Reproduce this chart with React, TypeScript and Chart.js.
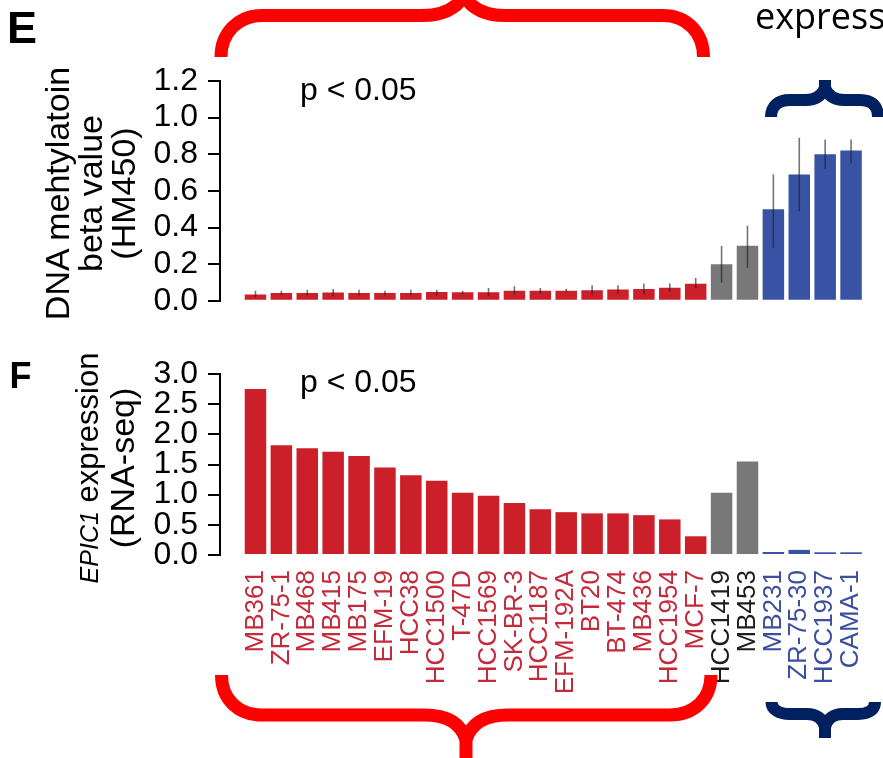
import React, { useEffect, useRef } from 'react';
import { Chart, registerables } from 'chart.js';

Chart.register(...registerables);

const FONT = "'Liberation Sans', Arial, sans-serif";

const cellLines = [
  'MB361', 'ZR-75-1', 'MB468', 'MB415', 'MB175', 'EFM-19', 'HCC38', 'HCC1500',
  'T-47D', 'HCC1569', 'SK-BR-3', 'HCC1187', 'EFM-192A', 'BT20', 'BT-474', 'MB436',
  'HCC1954', 'MCF-7', 'HCC1419', 'MB453', 'MB231', 'ZR-75-30', 'HCC1937', 'CAMA-1',
];
const groups = [
  'high', 'high', 'high', 'high', 'high', 'high', 'high', 'high',
  'high', 'high', 'high', 'high', 'high', 'high', 'high', 'high',
  'high', 'high', 'mid', 'mid', 'low', 'low', 'low', 'low',
];

// Panel E: DNA methylation beta value (HM450)
const methylation = [
  0.035, 0.042, 0.042, 0.045, 0.042, 0.042, 0.042, 0.048,
  0.046, 0.046, 0.055, 0.055, 0.055, 0.058, 0.062, 0.064,
  0.071, 0.093, 0.20, 0.30, 0.50, 0.69, 0.80, 0.82,
];
const methylationLow = [
  0.02, 0.03, 0.03, 0.025, 0.03, 0.03, 0.03, 0.03,
  0.035, 0.025, 0.035, 0.04, 0.045, 0.035, 0.04, 0.035,
  0.05, 0.07, 0.10, 0.18, 0.29, 0.49, 0.72, 0.75,
];
const methylationHigh = [
  0.055, 0.055, 0.06, 0.065, 0.06, 0.055, 0.06, 0.06,
  0.055, 0.07, 0.08, 0.07, 0.065, 0.085, 0.085, 0.095,
  0.095, 0.125, 0.30, 0.41, 0.69, 0.89, 0.88, 0.88,
];

// Panel F: EPIC1 expression (RNA-seq)
const expression = [
  2.75, 1.82, 1.77, 1.71, 1.64, 1.45, 1.32, 1.23,
  1.03, 0.98, 0.86, 0.76, 0.71, 0.69, 0.69, 0.66,
  0.59, 0.31, 1.03, 1.55, 0.05, 0.085, 0.045, 0.045,
];

const barColor: Record<string, string> = { high: '#cb1f29', mid: '#787878', low: '#3953a4' };
const labelColor: Record<string, string> = { high: '#c42a3a', mid: '#1c1c1c', low: '#3b4ea0' };

const X_MIN = -1.37;
const X_MAX = 23.5;

function yAxis(max: number, step: number) {
  return {
    min: 0,
    max,
    afterFit: (s: any) => { s.width = 220; },
    ticks: {
      stepSize: step,
      autoSkip: false,
      padding: 10,
      color: '#000',
      font: { size: 32, family: FONT },
      callback: (v: any) => Number(v).toFixed(1),
    },
    grid: { drawOnChartArea: false, drawTicks: true, tickLength: 12, color: '#000', lineWidth: 2 },
    border: { display: true, color: '#000', width: 2 },
  };
}

function xAxis(display: boolean) {
  const idx = cellLines.map((_, i) => i);
  const ax: any = {
    type: 'linear',
    bounds: 'data',
    offset: false,
    min: X_MIN,
    max: X_MAX,
    display,
    afterBuildTicks: (s: any) => {
      s.ticks = idx.map((v) => ({ value: v }));
      s.min = X_MIN;
      s.max = X_MAX;
    },
    afterFit: (s: any) => {
      s.paddingLeft = 0;
      s.paddingRight = 0;
      if (display) s.height = 203;
    },
    grid: { display: false, drawTicks: false, offset: false },
    border: { display: false },
    ticks: {
      autoSkip: false,
      minRotation: 90,
      maxRotation: 90,
      padding: 15,
      font: { size: 26, family: FONT },
      color: (c: any) => labelColor[groups[c.index]] || '#000',
      callback: (v: any) => cellLines[v] ?? '',
    },
  };
  return ax;
}

export default function App() {
  const eRef = useRef<HTMLCanvasElement>(null);
  const fRef = useRef<HTMLCanvasElement>(null);

  useEffect(() => {
    document.body.style.margin = '0';
    document.body.style.overflow = 'hidden';
    const colors = groups.map((g) => barColor[g]);

    const errorBars = {
      id: 'errorBars',
      afterDatasetsDraw(chart: any) {
        const meta = chart.getDatasetMeta(0);
        const y = chart.scales.y;
        const ctx = chart.ctx;
        ctx.save();
        ctx.strokeStyle = 'rgba(30,30,30,0.62)';
        ctx.lineWidth = 1.6;
        meta.data.forEach((bar: any, i: number) => {
          ctx.beginPath();
          ctx.moveTo(bar.x, y.getPixelForValue(methylationLow[i]));
          ctx.lineTo(bar.x, y.getPixelForValue(methylationHigh[i]));
          ctx.stroke();
        });
        ctx.restore();
      },
    };

    const common = {
      responsive: false,
      maintainAspectRatio: false,
      animation: false as const,
      plugins: { legend: { display: false }, tooltip: { enabled: false } },
    };

    const chartE = new Chart(eRef.current!, {
      type: 'bar',
      data: {
        datasets: [{
          data: methylation.map((v, i) => ({ x: i, y: v })),
          backgroundColor: colors,
          borderWidth: 0,
          barPercentage: 0.83,
          categoryPercentage: 1,
        }],
      },
      options: {
        ...common,
        layout: { padding: { top: 81, left: 0, right: 19, bottom: 29 } },
        scales: { x: xAxis(false), y: yAxis(1.2, 0.2) as any },
      },
      plugins: [errorBars],
    } as any);

    const chartF = new Chart(fRef.current!, {
      type: 'bar',
      data: {
        datasets: [{
          data: expression.map((v, i) => ({ x: i, y: v })),
          backgroundColor: colors,
          borderWidth: 0,
          barPercentage: 0.83,
          categoryPercentage: 1,
        }],
      },
      options: {
        ...common,
        layout: { padding: { top: 44, left: 0, right: 19, bottom: 0 } },
        scales: { x: xAxis(true), y: yAxis(3, 0.5) as any },
      },
    } as any);

    return () => {
      chartE.destroy();
      chartF.destroy();
    };
  }, []);

  const abs: React.CSSProperties = { position: 'absolute', whiteSpace: 'nowrap', color: '#000' };

  return (
    <div style={{ position: 'relative', width: 883, height: 758, overflow: 'hidden', fontFamily: FONT, background: '#fff' }}>
      <canvas ref={eRef} width={883} height={330} style={{ position: 'absolute', left: 0, top: 0, width: 883, height: 330 }} />
      <canvas ref={fRef} width={883} height={428} style={{ position: 'absolute', left: 0, top: 330, width: 883, height: 428 }} />

      <div style={{ ...abs, left: 7, top: 5, fontSize: 45, lineHeight: '45px', fontWeight: 'bold' }}>E</div>
      <div style={{ ...abs, left: 9.5, top: 357.5, fontSize: 36, lineHeight: '36px', fontWeight: 'bold' }}>F</div>

      <div style={{ ...abs, left: -69.8, top: 143.5, width: 320, height: 99, fontSize: 34, lineHeight: '33px', textAlign: 'center', transform: 'rotate(-90deg)', transformOrigin: 'center' }}>
        <div>DNA mehtylatoin</div>
        <div>beta value</div>
        <div>(HM450)</div>
      </div>

      <div style={{ ...abs, left: -57.3, top: 435, width: 320, height: 66, fontSize: 34, lineHeight: '33px', textAlign: 'center', transform: 'rotate(-90deg)', transformOrigin: 'center' }}>
        <div><span style={{ fontStyle: 'italic', fontSize: 25 }}>EPIC1</span><span style={{ fontSize: 31 }}> expression</span></div>
        <div>(RNA-seq)</div>
      </div>

      <div style={{ ...abs, left: 300, top: 73.2, fontSize: 32, lineHeight: '32px' }}>p &lt; 0.05</div>
      <div style={{ ...abs, left: 300, top: 365.2, fontSize: 32, lineHeight: '32px' }}>p &lt; 0.05</div>

      <div style={{ ...abs, left: 755, top: -2, fontSize: 36, lineHeight: '36px', fontFamily: "'Open Sans', sans-serif" }}>express</div>

      <svg width={883} height={758} style={{ position: 'absolute', left: 0, top: 0, pointerEvents: 'none' }}>
        <g fill="none" strokeWidth={13} strokeLinecap="butt" strokeLinejoin="miter">
          <path stroke="#ff0000" d="M221 57 C221 33 238 15.5 262 15.5 L422 15.5 C442 15.5 456 9 464 -4 C472 9 486 15.5 505 15.5 L663 15.5 C687 15.5 703.5 33 703.5 57" />
          <path stroke="#ff0000" d="M221.5 675 C221.5 699 238 715 262 715 L424 715 C447 715 461 723 466 740 L466 758 M466 740 C471 723 485 715 508 715 L670 715 C694 715 711 699 711 675" />
          <path stroke="#002060" strokeWidth={12} d="M771 117 C771 106 778 100 790 100 L806 100 C816 100 822 95 825 88 L825 80 M825 88 C828 95 834 100 844 100 L860 100 C872 100 878 106 878 117" />
          <path stroke="#002060" strokeWidth={12} d="M771.5 702 C771.5 709 778 714 790 714 L807 714 C817 714 823 719 825 727 L825 738 M825 727 C827 719 833 714 843 714 L858 714 C870 714 875 709 875 702" />
        </g>
      </svg>
    </div>
  );
}
